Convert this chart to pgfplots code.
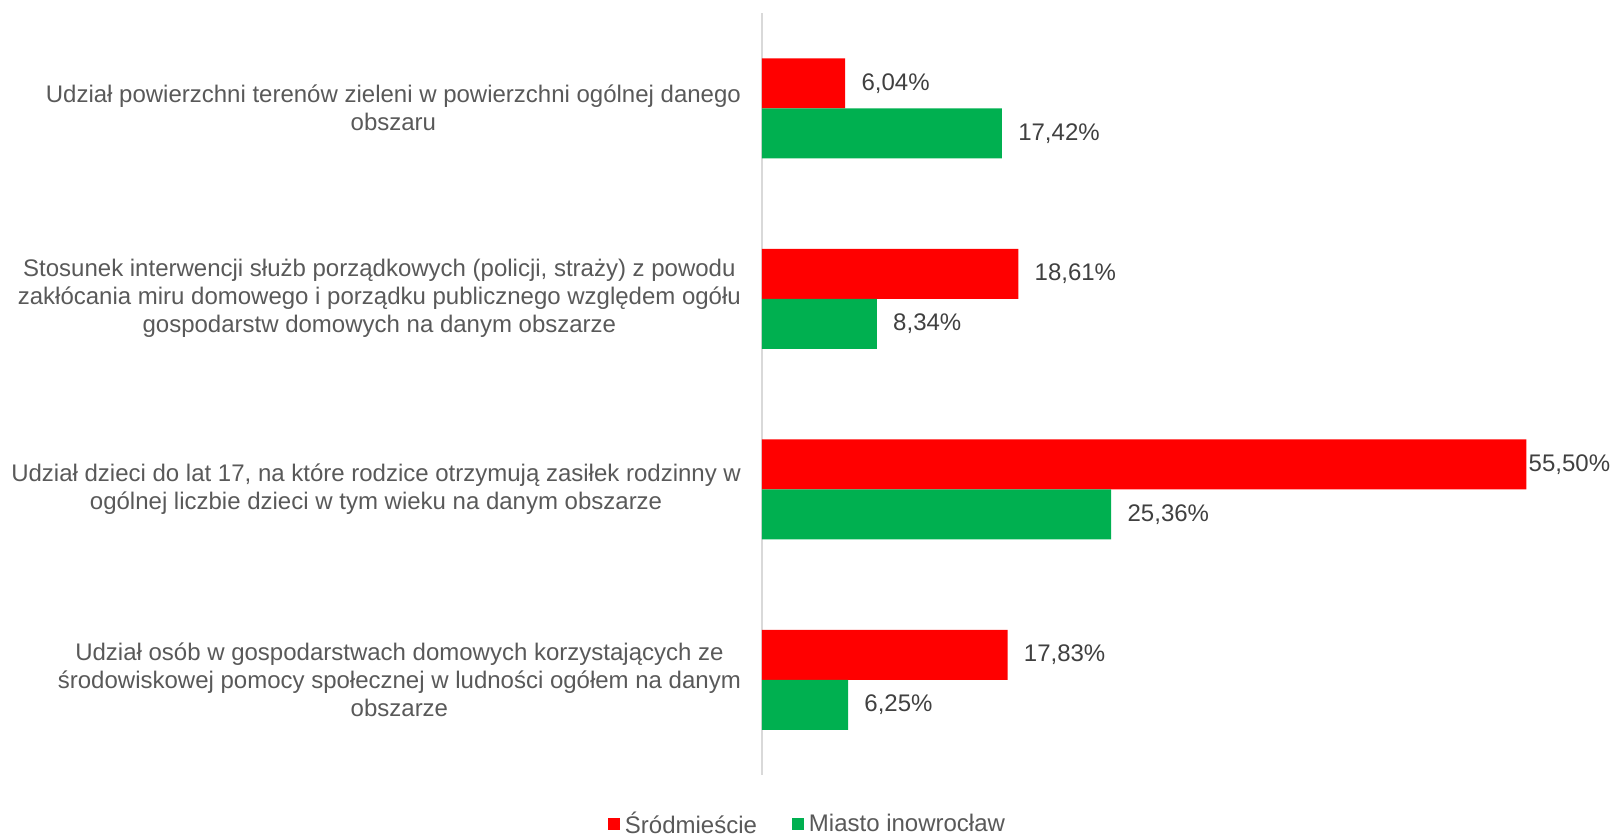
\documentclass[border=0pt]{standalone}
\usepackage{pgfplots}
\pgfplotsset{compat=1.18}
\usepackage{fontspec}
\setmainfont{Liberation Sans}
\definecolor{cred}{HTML}{FF0000}
\definecolor{cgreen}{HTML}{00B050}
\definecolor{lbl}{HTML}{595959}
\definecolor{val}{HTML}{404040}
\definecolor{axl}{HTML}{D9D9D9}
\begin{document}
\begin{tikzpicture}[font=\fontsize{12}{14}\selectfont]
\useasboundingbox (-381pt,-31pt) rectangle (427pt,387.5pt);
\begin{axis}[
  at={(0pt,0pt)}, anchor=south west,
  scale only axis, width=392.5pt, height=381pt,
  xbar=0pt, bar width=25pt,
  xmin=0, xmax=57, ymin=-0.5, ymax=3.5, y dir=reverse,
  axis x line=none, axis y line*=left,
  y axis line style={draw=axl, line width=0.75pt, -},
  ytick={0,1,2,3},
  yticklabels={
    {Udział powierzchni terenów zieleni w powierzchni ogólnej danego\\obszaru},
    {Stosunek interwencji służb porządkowych (policji, straży) z powodu\\zakłócania miru domowego i porządku publicznego względem ogółu\\gospodarstw domowych na danym obszarze},
    {Udział dzieci do lat 17, na które rodzice otrzymują zasiłek rodzinny w\\ogólnej liczbie dzieci w tym wieku na danym obszarze},
    {Udział osób w gospodarstwach domowych korzystających ze\\środowiskowej pomocy społecznej w ludności ogółem na danym\\obszarze}},
  major tick length=0pt,
  yticklabel style={align=center, text=lbl, xshift=-7pt},
  /pgf/number format/assume math mode=true,
  visualization depends on={rawx \as \rawx},
  nodes near coords={\pgfmathprintnumber[fixed,zerofill,precision=2,use comma,assume math mode=true]{\pgfplotspointmeta}\%},
  nodes near coords style={text=val, anchor=west, inner sep=0pt, xshift={ifthenelse(\rawx>50,1,8)*1pt}},
  legend style={at={(axis description cs:0.0586,0)}, yshift=-24.5pt, anchor=center, draw=none,
    legend columns=2, /tikz/every even column/.append style={column sep=16pt},
    text=lbl, inner sep=0pt, nodes={inner sep=1.5pt}},
  legend image code/.code={\fill[#1] (0pt,-3pt) rectangle (6pt,3pt);},
  clip=false,
]
\addplot[fill=cred, draw=none, bar shift=12.5pt] coordinates {(6.04,0) (18.61,1) (55.50,2) (17.83,3)};
\addlegendentry{\hspace{1pt}Śródmieście}
\addplot[fill=cgreen, draw=none, bar shift=-12.5pt] coordinates {(17.42,0) (8.34,1) (25.36,2) (6.25,3)};
\addlegendentry{\hspace{1pt}Miasto inowrocław}
\end{axis}
\end{tikzpicture}
\end{document}
